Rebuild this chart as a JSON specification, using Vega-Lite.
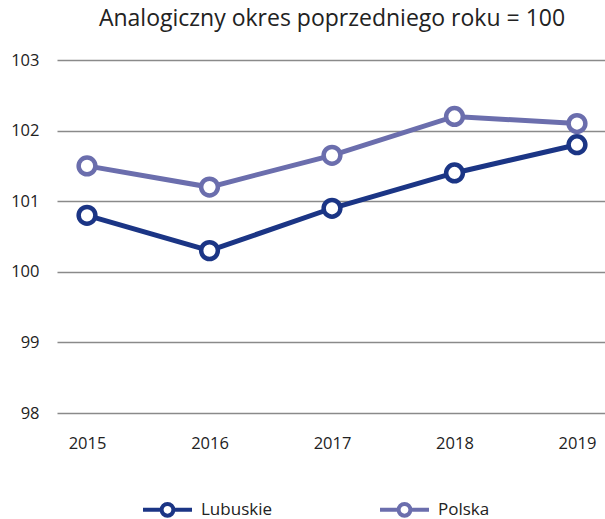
{
  "$schema": "https://vega.github.io/schema/vega-lite/v6.json",
  "width": 550,
  "height": 353,
  "autosize": {"type": "none"},
  "padding": {"left": 57, "top": 60, "right": 0, "bottom": 106},
  "background": "white",
  "config": {
    "font": "Open Sans",
    "view": {"stroke": null}
  },
  "title": {
    "text": "Analogiczny okres poprzedniego roku = 100",
    "fontSize": 23,
    "fontWeight": "normal",
    "color": "#222222",
    "anchor": "middle",
    "offset": 21
  },
  "data": {
    "values": [
      {"rok": "2015", "seria": "Lubuskie", "wartosc": 100.8},
      {"rok": "2016", "seria": "Lubuskie", "wartosc": 100.3},
      {"rok": "2017", "seria": "Lubuskie", "wartosc": 100.9},
      {"rok": "2018", "seria": "Lubuskie", "wartosc": 101.4},
      {"rok": "2019", "seria": "Lubuskie", "wartosc": 101.8},
      {"rok": "2015", "seria": "Polska", "wartosc": 101.5},
      {"rok": "2016", "seria": "Polska", "wartosc": 101.2},
      {"rok": "2017", "seria": "Polska", "wartosc": 101.65},
      {"rok": "2018", "seria": "Polska", "wartosc": 102.2},
      {"rok": "2019", "seria": "Polska", "wartosc": 102.1}
    ]
  },
  "encoding": {
    "x": {
      "field": "rok",
      "type": "ordinal",
      "scale": {"type": "point", "padding": 0.245},
      "axis": {
        "title": null,
        "labelAngle": 0,
        "labelFontSize": 16.5,
        "labelColor": "#222222",
        "labelPadding": 22,
        "domain": false,
        "ticks": false,
        "grid": false
      }
    },
    "y": {
      "field": "wartosc",
      "type": "quantitative",
      "scale": {"domain": [98, 103], "nice": false, "zero": false},
      "axis": {
        "title": null,
        "values": [98, 99, 100, 101, 102, 103],
        "labelFontSize": 16.5,
        "labelColor": "#222222",
        "labelPadding": 18,
        "domain": false,
        "ticks": false,
        "grid": true,
        "gridColor": "#8a8a8a",
        "gridWidth": 1.5
      }
    },
    "color": {
      "field": "seria",
      "type": "nominal",
      "scale": {"domain": ["Lubuskie", "Polska"], "range": ["#1b3585", "#6b6ead"]},
      "legend": {
        "title": null,
        "orient": "none",
        "legendX": 84,
        "legendY": 423,
        "direction": "horizontal",
        "symbolType": "M-1,0L-0.24,0M0.24,0L1,0M-0.24,0A0.24,0.24 0 1,1 0.24,0A0.24,0.24 0 1,1 -0.24,0",
        "symbolSize": 2400,
        "symbolStrokeWidth": 4,
        "symbolFillColor": "white",
        "labelFontSize": 17,
        "labelColor": "#222222",
        "labelOffset": 7,
        "columnPadding": 100,
        "encode": {
          "symbols": {
            "update": {
              "fill": {"value": "white"},
              "strokeWidth": {"value": 4},
              "opacity": {"value": 1}
            }
          }
        }
      }
    }
  },
  "layer": [
    {"mark": {"type": "line", "strokeWidth": 5}},
    {"mark": {"type": "point", "filled": false, "fill": "white", "size": 280, "strokeWidth": 4.5, "opacity": 1, "fillOpacity": 1}}
  ]
}
